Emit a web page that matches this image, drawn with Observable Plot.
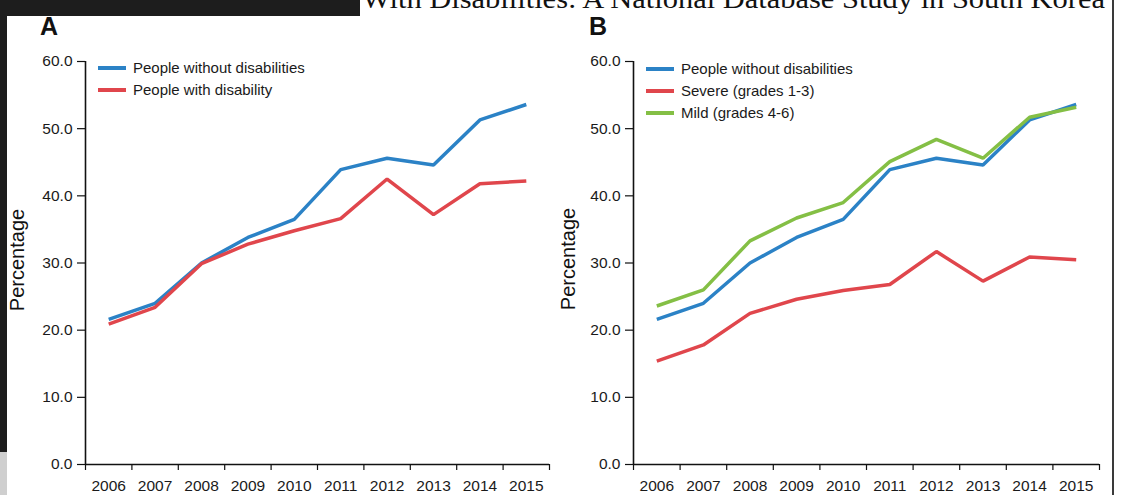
<!DOCTYPE html>
<html>
<head>
<meta charset="utf-8">
<script src="https://cdn.jsdelivr.net/npm/d3@7"></script>
<script src="https://cdn.jsdelivr.net/npm/@observablehq/plot@0.6"></script>
<style>
  html, body { margin: 0; padding: 0; background: #ffffff; }
  body { width: 1122px; height: 495px; position: relative; overflow: hidden; font-family: "Liberation Sans", Arial, sans-serif; }
  .abs { position: absolute; }
  .panel-letter { font-weight: bold; font-size: 25px; color: #111; line-height: 1; }
  .ylab { font-size: 20px; color: #111; transform: rotate(-90deg); transform-origin: center center; white-space: nowrap; line-height: 1; }
  .leg { font-size: 15px; color: #1a1a1a; white-space: nowrap; line-height: 1; }
  .sw { height: 4px; width: 28px; }
</style>
</head>
<body>
<div id="root"></div>
<script>
// ---------- data ----------
const years = [2006, 2007, 2008, 2009, 2010, 2011, 2012, 2013, 2014, 2015];
const withoutDisabilities = [21.6, 24.0, 30.0, 33.8, 36.5, 43.9, 45.6, 44.6, 51.3, 53.6];
const withDisability      = [20.9, 23.4, 29.9, 32.8, 34.8, 36.6, 42.5, 37.2, 41.8, 42.2];
const severeGrades13      = [15.4, 17.8, 22.5, 24.6, 25.9, 26.8, 31.7, 27.3, 30.9, 30.5];
const mildGrades46        = [23.6, 26.0, 33.3, 36.7, 39.0, 45.1, 48.4, 45.6, 51.7, 53.2];
const yTicks = [0, 10, 20, 30, 40, 50, 60];
const seriesA = ["People without disabilities", "People with disability"];
const seriesB = ["People without disabilities", "Severe (grades 1-3)", "Mild (grades 4-6)"];
const colorsA = ["#2b82c6", "#e0464c"];
const colorsB = ["#2b82c6", "#e0464c", "#84bf45"];
const headerText = "With Disabilities: A National Database Study in South Korea";

// ---------- helpers ----------
function rows(names, arrays) {
  const out = [];
  names.forEach((n, k) => years.forEach((yr, i) => out.push({year: yr, value: arrays[k][i], series: n})));
  return out;
}
const edges = [...years.map(y => y - 0.5), years[years.length - 1] + 0.5];

function panel(data, names, colors, mLeft, mRight) {
  return Plot.plot({
    width: 560, height: 495,
    marginLeft: mLeft, marginRight: mRight, marginTop: 61, marginBottom: 31,
    x: {type: "linear", domain: [edges[0], edges[edges.length - 1]]},
    y: {domain: [0, 60]},
    color: {domain: names, range: colors},
    style: {fontFamily: "'Liberation Sans', Arial, sans-serif", fontSize: "15.5px", color: "#1a1a1a", background: "transparent", overflow: "visible"},
    marks: [
      Plot.ruleX([edges[0]], {y1: 0, y2: 60, stroke: "#111", strokeWidth: 1.6}),
      Plot.ruleY([0], {stroke: "#111", strokeWidth: 1.6}),
      Plot.axisY(yTicks, {tickSize: 8, tickPadding: 5, tickFormat: d3.format(".1f"), label: null, stroke: "#111", strokeWidth: 1.2}),
      Plot.axisX(edges, {tickSize: 6, tickFormat: () => "", label: null, stroke: "#111", strokeWidth: 1.2}),
      Plot.axisX(years, {tickSize: 0, tickPadding: 15, tickFormat: d => String(d), label: null}),
      Plot.line(data, {x: "year", y: "value", z: "series", stroke: "series", strokeWidth: 3.5, strokeLinejoin: "miter", strokeLinecap: "butt"})
    ]
  });
}

const root = document.getElementById("root");
function add(el, left, top) { el.classList.add("abs"); el.style.left = left + "px"; el.style.top = top + "px"; root.appendChild(el); return el; }
function div(cls, text) { const d = document.createElement("div"); if (cls) d.className = cls; if (text != null) d.textContent = text; return d; }

// page frame pieces (scan background)
const dark = "#1d1d1d";
const r1 = div(); r1.style.cssText = `width:360px;height:16px;background:${dark}`; add(r1, 0, 0);
const r2 = div(); r2.style.cssText = `width:7px;height:452px;background:${dark}`; add(r2, 0, 0);
const r3 = div(); r3.style.cssText = `width:7px;height:43px;background:#cfcfcf`; add(r3, 0, 452);
const r4 = div(); r4.style.cssText = `width:2px;height:495px;background:#3a3a3a`; add(r4, 1112, 0);

// header text (cut off at the top)
const ns = "http://www.w3.org/2000/svg";
const hs = document.createElementNS(ns, "svg");
hs.setAttribute("width", 760); hs.setAttribute("height", 20);
hs.style.cssText = "position:absolute;left:355px;top:0;overflow:visible";
const ht = document.createElementNS(ns, "text");
ht.setAttribute("x", 7); ht.setAttribute("y", 8);
ht.setAttribute("textLength", 743); ht.setAttribute("lengthAdjust", "spacingAndGlyphs");
ht.setAttribute("font-family", "'Liberation Serif', 'Times New Roman', serif");
ht.setAttribute("font-size", 28); ht.setAttribute("fill", "#111");
ht.textContent = headerText;
hs.appendChild(ht); root.appendChild(hs);

// panels
const pA = panel(rows(seriesA, [withoutDisabilities, withDisability]), seriesA, colorsA, 85, 11);
pA.style.position = "absolute"; pA.style.left = "0px"; pA.style.top = "0px"; root.appendChild(pA);
const pB = panel(rows(seriesB, [withoutDisabilities, severeGrades13, mildGrades46]), seriesB, colorsB, 85, 9);
pB.style.position = "absolute"; pB.style.left = "548px"; pB.style.top = "0px"; root.appendChild(pB);

// panel letters
add(div("panel-letter", "A"), 40, 14);
add(div("panel-letter", "B"), 589, 14);

// y labels
function ylab(cx, cy) {
  const d = div("ylab", "Percentage");
  root.appendChild(d); d.classList.add("abs");
  const w = d.offsetWidth, h = d.offsetHeight;
  d.style.left = (cx - w / 2) + "px"; d.style.top = (cy - h / 2) + "px";
}
ylab(17, 260);
ylab(568, 259);

// legends
function legend(names, colors, swLeft, textLeft, top0) {
  names.forEach((n, i) => {
    const cy = top0 + i * 22;
    const s = div("sw"); s.style.background = colors[i]; add(s, swLeft, cy - 2);
    const t = div("leg", n); add(t, textLeft, cy - 8);
  });
}
legend(seriesA, colorsA, 98, 133, 68);
legend(seriesB, colorsB, 646, 681, 68.5);
</script>
</body>
</html>
